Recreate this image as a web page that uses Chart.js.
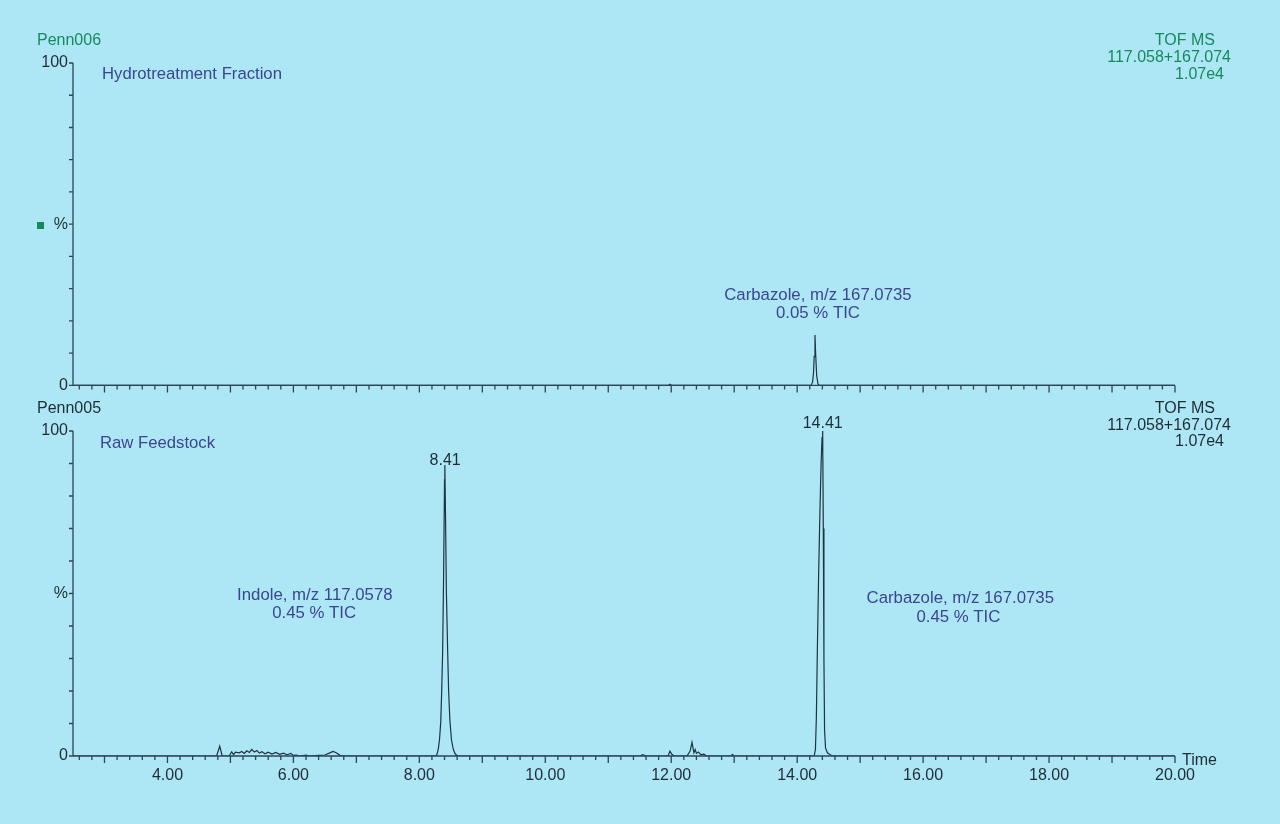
<!DOCTYPE html>
<html><head><meta charset="utf-8">
<script src="https://cdn.jsdelivr.net/npm/chart.js@4.4.0/dist/chart.umd.min.js"></script>
<style>
html,body{margin:0;padding:0;background:#ade6f5;}
#wrap{position:relative;width:1280px;height:824px;background:#ade6f5;font-family:"Liberation Sans",Arial,sans-serif;overflow:hidden;}
canvas{position:absolute;left:0;}
.t{position:absolute;font-size:16px;white-space:nowrap;line-height:16px;}
.b{font-size:16.7px;}
.g{color:#178a5c;}
.n{color:#3a4690;}
.k{color:#1e2d36;}
.r{text-align:right;}
</style></head><body>
<div id="wrap">
<canvas id="c1" width="1280" height="400" style="top:0;width:1280px;height:400px"></canvas>
<canvas id="c2" width="1280" height="424" style="top:400px;width:1280px;height:424px"></canvas>
<div class="t g" style="left:37px;top:32px">Penn006</div>
<div class="t g r" style="right:65px;top:32px">TOF MS</div>
<div class="t g r" style="right:49px;top:49px">117.058+167.074</div>
<div class="t g r" style="right:56px;top:66px">1.07e4</div>
<div class="t n b" style="left:102px;top:66px">Hydrotreatment Fraction</div>
<div style="position:absolute;left:37px;top:222px;width:7px;height:7px;background:#178a5c"></div>
<div class="t k" style="left:37px;top:400px">Penn005</div>
<div class="t k r" style="right:65px;top:400px">TOF MS</div>
<div class="t k r" style="right:49px;top:417px">117.058+167.074</div>
<div class="t k r" style="right:56px;top:433px">1.07e4</div>
<div class="t n b" style="left:100px;top:435px">Raw Feedstock</div>
<div class="t k" style="left:1182px;top:752px">Time</div>
</div>
<script>
// ---- data (retention time in min, intensity in %) ----
const hydroTime = [2.5, 11.95, 11.98, 12.01, 14.22, 14.245, 14.26, 14.27, 14.283, 14.295, 14.31, 14.33, 14.35, 20.0];
const hydroSignal = [0, 0, 0.4, 0, 0, 1, 4, 9, 15.6, 9, 3, 0.5, 0, 0];

const rawTime = [2.5, 4.78, 4.83, 4.87, 4.98, 5.02, 5.05, 5.08, 5.14, 5.18, 5.22, 5.26, 5.30, 5.34, 5.38, 5.42, 5.46, 5.50, 5.55, 5.60, 5.66, 5.72, 5.78, 5.84, 5.90, 5.96, 6.00, 6.05, 6.10, 6.20, 6.25, 6.40, 6.50, 6.56, 6.63, 6.68, 6.74, 6.80,
  8.26, 8.28, 8.30, 8.32, 8.34, 8.355, 8.37, 8.385, 8.40, 8.405, 8.415, 8.43, 8.45, 8.465, 8.485, 8.51, 8.54, 8.57, 8.61,
  11.50, 11.55, 11.60, 11.95, 11.98, 12.01, 12.05, 12.25, 12.30, 12.33, 12.36, 12.38, 12.40, 12.43, 12.47, 12.52, 12.56, 12.95, 12.97, 13.00,
  14.27, 14.29, 14.305, 14.32, 14.34, 14.36, 14.38, 14.395, 14.405, 14.415, 14.425, 14.435, 14.45, 14.48, 14.53, 14.58, 20.0];
const rawSignal = [0, 0, 3, 0, 0, 1.3, 0.4, 1.2, 1.0, 1.4, 0.8, 1.6, 1.1, 2.0, 1.2, 1.7, 0.9, 1.3, 0.7, 1.2, 0.6, 1.1, 0.5, 0.9, 0.4, 0.8, 0.2, 0.3, 0, 0.3, 0, 0.2, 0.3, 0.8, 1.4, 1.0, 0.2, 0,
  0, 0.5, 2, 5, 10.5, 20, 32, 55, 85, 89.5, 75, 50, 32, 20, 11, 5, 2, 0.6, 0,
  0, 0.4, 0, 0, 1.5, 0.5, 0, 0, 1.5, 4.2, 1, 2, 0.8, 1.2, 0.4, 0.6, 0, 0, 0.5, 0,
  0, 2, 12, 32, 55, 74, 90, 98, 100, 70, 30, 8, 2.5, 1, 0.3, 0, 0];

const xLabelTicks = [4, 6, 8, 10, 12, 14, 16, 18, 20];
const yTickValues = [0, 10, 20, 30, 40, 50, 60, 70, 80, 90, 100];
const yLabelText = {0: '0', 50: '%', 100: '100'};

const hydroNotes = [
  {text: 'Carbazole, m/z 167.0735', t: 14.33, v: 27.8},
  {text: '0.05 % TIC', t: 14.33, v: 22.2}
];
const rawNotes = [
  {text: 'Indole, m/z 117.0578', t: 6.34, v: 49.5},
  {text: '0.45 % TIC', t: 6.33, v: 44.0},
  {text: 'Carbazole, m/z 167.0735', t: 16.59, v: 48.6},
  {text: '0.45 % TIC', t: 16.56, v: 42.8}
];
const rawPeakLabels = [
  {text: '8.41', t: 8.41, v: 91.0},
  {text: '14.41', t: 14.405, v: 102.2}
];

// ---- styling ----
const AXIS = '#2b4654';
const TRACE = '#1d3441';
const NAVY = '#3a4690';
const DARK = '#1e2d36';
const FONT = '"Liberation Sans", Arial, sans-serif';

const axesPlugin = {
  id: 'msAxes',
  afterDraw(chart) {
    const {ctx, chartArea: a, scales: {x, y}} = chart;
    ctx.save();
    ctx.strokeStyle = AXIS;
    ctx.lineWidth = 1.3;
    ctx.beginPath();
    ctx.moveTo(a.left, a.top);
    ctx.lineTo(a.left, a.bottom);
    ctx.lineTo(a.right, a.bottom);
    x.ticks.forEach(t => {
      const px = x.getPixelForValue(t.value);
      const major = Math.abs(t.value - Math.round(t.value)) < 1e-6;
      ctx.moveTo(px, a.bottom);
      ctx.lineTo(px, a.bottom + (major ? 7 : 4));
    });
    y.ticks.forEach(t => {
      const py = y.getPixelForValue(t.value);
      ctx.moveTo(a.left, py);
      ctx.lineTo(a.left - 4, py);
    });
    ctx.stroke();
    const notes = chart.options.plugins.msAxes.notes || [];
    ctx.textAlign = 'center';
    ctx.textBaseline = 'middle';
    notes.forEach(n => {
      ctx.font = n.size + 'px ' + FONT;
      ctx.fillStyle = n.color;
      ctx.fillText(n.text, x.getPixelForValue(n.t), y.getPixelForValue(n.v));
    });
    ctx.restore();
  }
};

function makeChart(id, times, signal, opts) {
  const pts = times.map((t, i) => ({x: t, y: signal[i]}));
  return new Chart(document.getElementById(id), {
    type: 'line',
    data: {datasets: [{data: pts, borderColor: TRACE, borderWidth: 1.2, pointRadius: 0, tension: 0, fill: false}]},
    options: {
      responsive: false,
      animation: false,
      devicePixelRatio: 1,
      layout: {padding: {left: 0, right: 105, top: opts.top, bottom: 0}},
      plugins: {legend: {display: false}, tooltip: {enabled: false}, msAxes: {notes: opts.notes}},
      scales: {
        x: {
          type: 'linear', min: 2.5, max: 20,
          grid: {display: false, drawTicks: false},
          border: {display: false},
          afterBuildTicks(scale) {
            const arr = [];
            for (let i = 13; i <= 100; i++) arr.push({value: Math.round(i * 2) / 10});
            scale.ticks = arr;
          },
          afterFit(scale) { scale.height = opts.xh; },
          ticks: {
            display: opts.showX, autoSkip: false, maxRotation: 0, padding: 10,
            color: DARK, font: {family: FONT, size: 16},
            callback: v => xLabelTicks.some(l => Math.abs(l - v) < 1e-6) ? v.toFixed(2) : ''
          }
        },
        y: {
          type: 'linear', min: 0, max: 100,
          grid: {display: false, drawTicks: false},
          border: {display: false},
          afterBuildTicks(scale) { scale.ticks = yTickValues.map(v => ({value: v})); },
          afterFit(scale) { scale.width = 73; },
          ticks: {
            autoSkip: false, padding: 5, color: DARK, font: {family: FONT, size: 16},
            callback: v => (yLabelText[Math.round(v)] !== undefined ? yLabelText[Math.round(v)] : '')
          }
        }
      }
    },
    plugins: [axesPlugin]
  });
}

makeChart('c1', hydroTime, hydroSignal, {
  top: 63, xh: 13, showX: false,
  notes: hydroNotes.map(n => Object.assign({color: NAVY, size: 16.8}, n))
});
makeChart('c2', rawTime, rawSignal, {
  top: 31, xh: 68, showX: true,
  notes: rawNotes.map(n => Object.assign({color: NAVY, size: 16.8}, n)).concat(rawPeakLabels.map(n => Object.assign({color: DARK, size: 16}, n)))
});
</script>
</body></html>
